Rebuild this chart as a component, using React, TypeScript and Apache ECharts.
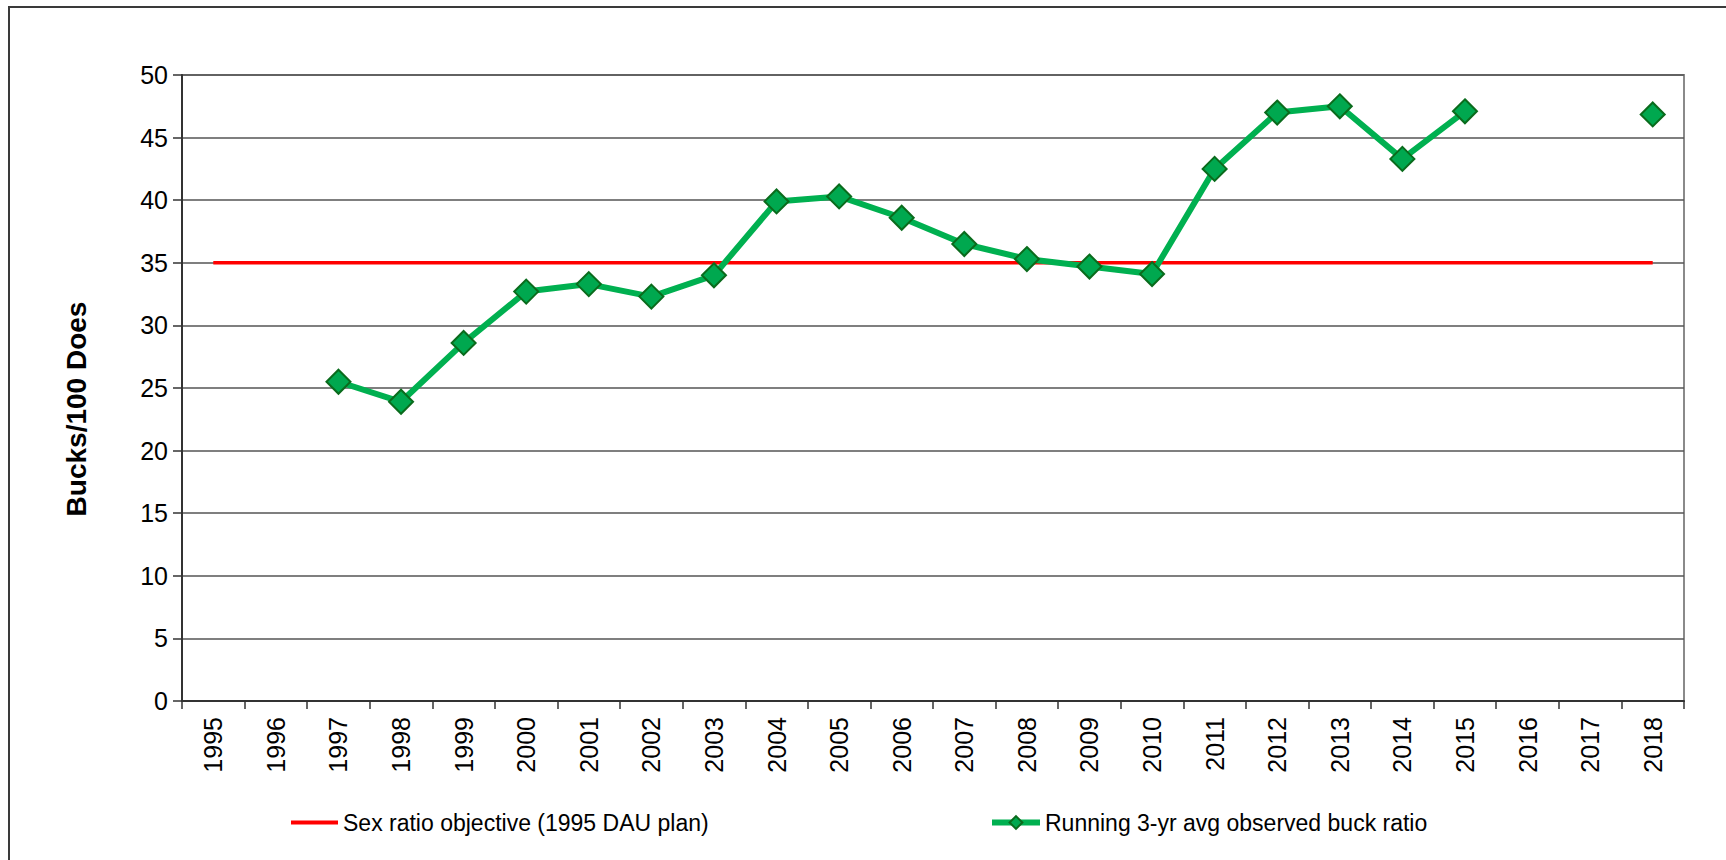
import React, { useEffect, useRef } from "react";
import * as echarts from "echarts";

const years = [
  "1995", "1996", "1997", "1998", "1999", "2000", "2001", "2002", "2003", "2004",
  "2005", "2006", "2007", "2008", "2009", "2010", "2011", "2012", "2013", "2014",
  "2015", "2016", "2017", "2018",
];
const objective = [
  35, 35, 35, 35, 35, 35, 35, 35, 35, 35, 35, 35, 35, 35, 35, 35, 35, 35, 35, 35, 35, 35, 35, 35,
];
const buckRatio = [
  null, null, 25.5, 23.9, 28.6, 32.7, 33.3, 32.3, 34.0, 39.9,
  40.3, 38.6, 36.5, 35.3, 34.7, 34.1, 42.5, 47.0, 47.5, 43.3,
  47.1, null, null, 46.85,
];
const seriesNames = [
  "Sex ratio objective (1995 DAU plan)",
  "Running 3-yr avg observed buck ratio",
];
const yTitle = "Bucks/100 Does";

const FONT = "'Liberation Sans', Arial, sans-serif";

export default function App() {
  const ref = useRef<HTMLDivElement>(null);
  useEffect(() => {
    const chart = echarts.init(ref.current!, null, { renderer: "svg" });
    chart.setOption({
      animation: false,
      backgroundColor: "#ffffff",
      textStyle: { fontFamily: FONT },
      graphic: [
        {
          type: "rect",
          shape: { x: 9, y: 7, width: 1800, height: 900 },
          style: { fill: "none", stroke: "#3a3a3a", lineWidth: 2 },
          silent: true,
        },
        {
          type: "text",
          x: 76,
          y: 409,
          rotation: Math.PI / 2,
          silent: true,
          style: {
            text: yTitle,
            fontFamily: FONT,
            fontSize: 28,
            fontWeight: "bold",
            fill: "#000",
            align: "center",
            verticalAlign: "middle",
          },
        },
      ],
      grid: {
        left: 182,
        top: 75,
        right: 42,
        bottom: 159,
        show: true,
        borderColor: "#8a8a8a",
        borderWidth: 2,
        backgroundColor: "transparent",
      },
      legend: [
        {
          data: [{ name: seriesNames[0], icon: "rect" }],
          left: 286,
          top: 806,
          itemWidth: 47,
          itemHeight: 4,
          itemGap: 4,
          itemStyle: { color: "#ff0000" },
          textStyle: { fontFamily: FONT, fontSize: 23, color: "#000" },
        },
        {
          data: [seriesNames[1]],
          left: 984,
          top: 806,
          itemWidth: 48,
          itemHeight: 16,
          itemGap: 4,
          lineStyle: { width: 6, color: "#00b050" },
          textStyle: { fontFamily: FONT, fontSize: 23, color: "#000" },
        },
      ],
      xAxis: {
        type: "category",
        data: years,
        boundaryGap: true,
        axisLine: { show: true, lineStyle: { color: "#333", width: 2 } },
        axisTick: { show: true, interval: 0, length: 8, lineStyle: { color: "#333", width: 1.5 } },
        axisLabel: {
          interval: 0,
          rotate: 90,
          margin: 16,
          fontSize: 25,
          color: "#000",
          fontFamily: FONT,
        },
        splitLine: { show: false },
      },
      yAxis: {
        type: "value",
        min: 0,
        max: 50,
        interval: 5,
        axisLine: { show: true, lineStyle: { color: "#333", width: 2 } },
        axisTick: { show: true, length: 9, lineStyle: { color: "#333", width: 1.5 } },
        axisLabel: { margin: 14, fontSize: 25, color: "#000", fontFamily: FONT },
        splitLine: { show: true, lineStyle: { color: "#555", width: 1.5 } },
      },
      series: [
        {
          name: seriesNames[0],
          type: "line",
          data: objective,
          symbol: "none",
          lineStyle: { color: "#ff0000", width: 3.5 },
          itemStyle: { color: "#ff0000" },
          z: 2,
        },
        {
          name: seriesNames[1],
          type: "line",
          data: buckRatio,
          connectNulls: false,
          symbol: "diamond",
          symbolSize: 24,
          showAllSymbol: true,
          lineStyle: { color: "#00b050", width: 6 },
          itemStyle: { color: "#00a84f", borderColor: "#0a6b1c", borderWidth: 2 },
          z: 3,
        },
      ],
    });
    return () => chart.dispose();
  }, []);
  return (
    <div
      ref={ref}
      style={{ position: "fixed", left: 0, top: 0, width: 1726, height: 860 }}
    />
  );
}
